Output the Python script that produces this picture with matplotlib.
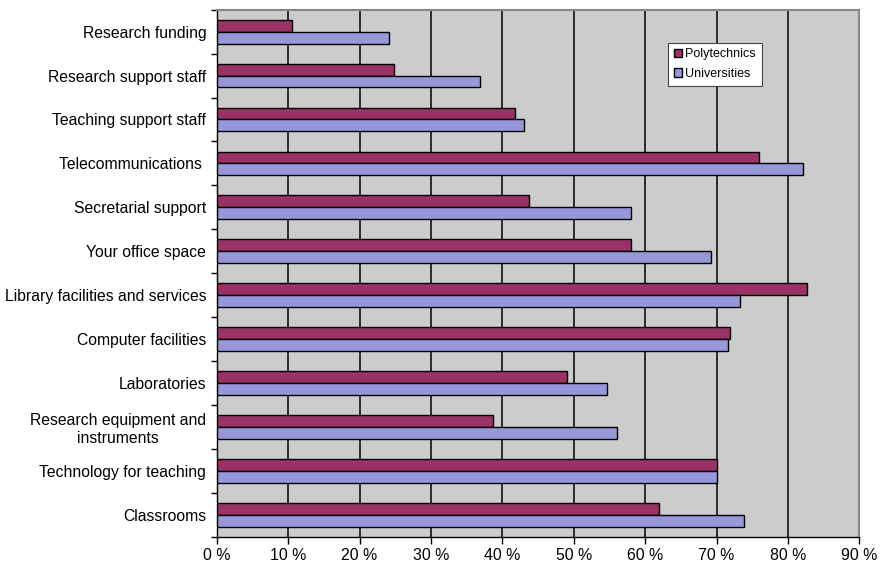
import matplotlib
matplotlib.use("Agg")
import matplotlib.pyplot as plt
import numpy as np
from matplotlib.ticker import FixedLocator, NullFormatter

categories = [
    "Research funding",
    "Research support staff",
    "Teaching support staff",
    "Telecommunications ",
    "Secretarial support",
    "Your office space",
    "Library facilities and services",
    "Computer facilities",
    "Laboratories",
    "Research equipment and\ninstruments",
    "Technology for teaching",
    "Classrooms",
]
polytechnics = [10.6, 24.9, 41.8, 75.9, 43.7, 58.0, 82.7, 71.9, 49.1, 38.7, 70.1, 61.9]
universities = [24.1, 36.9, 43.0, 82.1, 58.0, 69.2, 73.3, 71.6, 54.6, 56.0, 70.0, 73.8]
xticks = [0, 10, 20, 30, 40, 50, 60, 70, 80, 90]
xticklabels = [f"{v} %" for v in xticks]

plt.rcParams['font.family'] = ['Liberation Sans', 'DejaVu Sans']

fig = plt.figure(figsize=(8.81, 5.64), dpi=100)
ax = fig.add_axes([216.7/881, 1-536.7/564, (859.3-216.7)/881, (536.7-9.7)/564])
ax.set_facecolor('#CCCCCC')

n = len(categories)
y = np.arange(n)[::-1].astype(float)  # top category at highest y
h = 0.27
ax.barh(y + h/2, polytechnics, height=h, color='#993366', edgecolor='black',
        linewidth=1.0, label='Polytechnics', zorder=3)
ax.barh(y - h/2, universities, height=h, color='#9698D8', edgecolor='black',
        linewidth=1.0, label='Universities', zorder=3)

ax.set_xlim(0, 90)
ax.set_ylim(-0.5, n - 0.5)
ax.set_xticks(xticks)
ax.set_xticklabels(xticklabels, fontsize=11.4)
for xv in xticks[1:-1]:
    ax.axvline(xv, color='black', linewidth=1.1, zorder=1)

ax.set_yticks(y)
ax.set_yticklabels(categories, fontsize=11.3, ha='right', multialignment='center')
ax.tick_params(axis='y', which='major', length=0, pad=7.5)
ax.yaxis.set_minor_locator(FixedLocator(np.arange(-0.5, n, 1.0)))
ax.yaxis.set_minor_formatter(NullFormatter())
ax.tick_params(axis='y', which='minor', length=4, width=1, direction='out')
ax.tick_params(axis='x', length=5, width=1, direction='out', pad=3)

for s in ['left', 'bottom']:
    ax.spines[s].set_color('black')
    ax.spines[s].set_linewidth(1.0)
for s in ['right', 'top']:
    ax.spines[s].set_color('#888888')
    ax.spines[s].set_linewidth(1.5)

leg = ax.legend(loc='upper left', bbox_to_anchor=((668-216.7)/642.6, 1-(42.7-9.7)/527),
                fontsize=9, frameon=True, fancybox=False, edgecolor='#444444',
                handlelength=0.7, handleheight=0.7, handletextpad=0.25,
                borderpad=0.45, labelspacing=0.62, borderaxespad=0)
leg.get_frame().set_linewidth(0.8)
leg.get_frame().set_facecolor('white')
leg.get_frame().set_alpha(1)

fig.savefig('out.png', dpi=100)
